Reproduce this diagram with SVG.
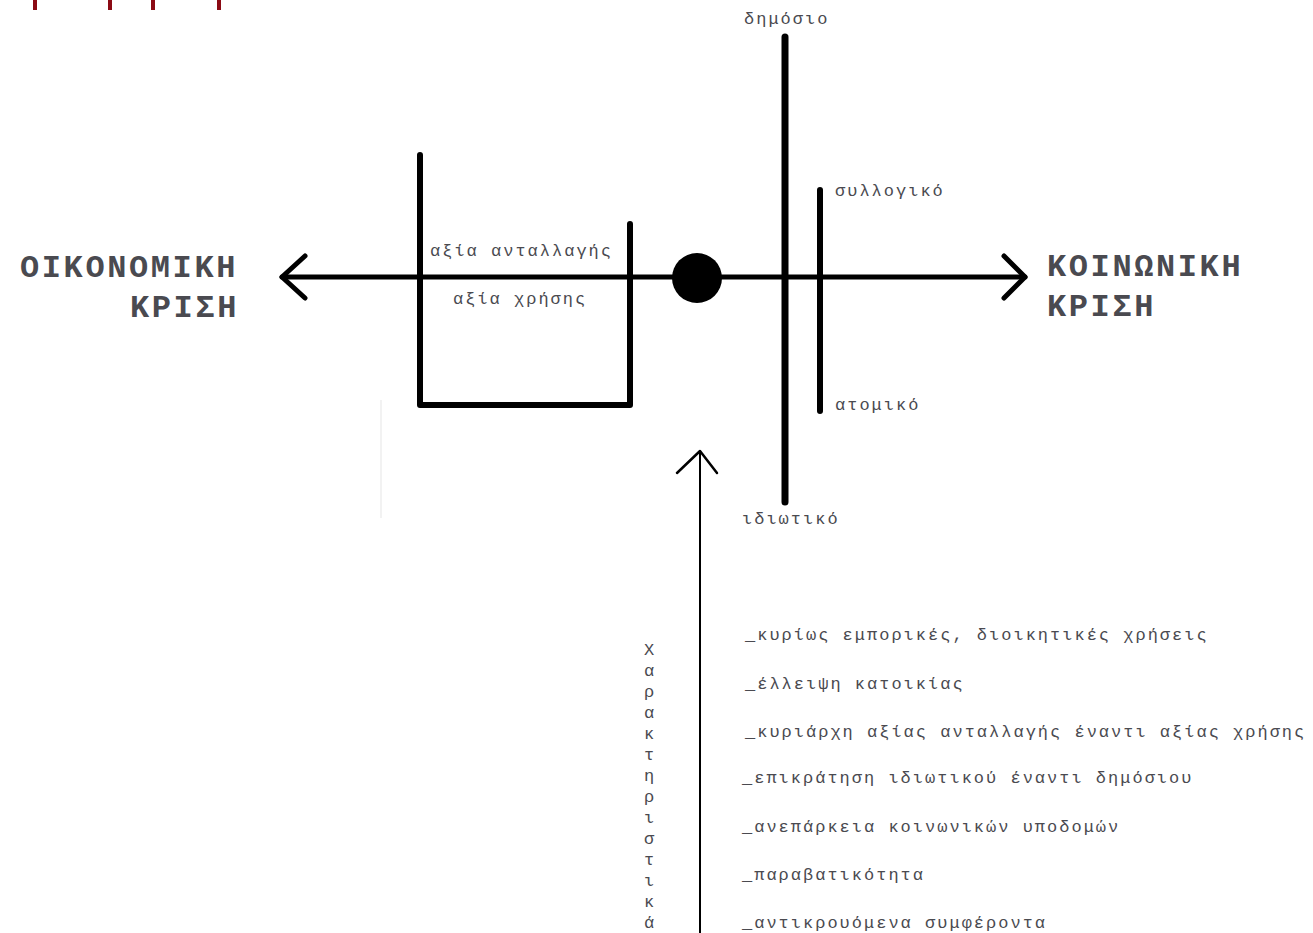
<svg xmlns="http://www.w3.org/2000/svg" width="1313" height="933" viewBox="0 0 1313 933">
<style>
text{font-family:"Liberation Mono","Courier New",monospace;fill:#4a4a50}
.big{font-size:32px;font-weight:bold;letter-spacing:2.6px}
.sm{font-size:17px;letter-spacing:2px}
.thick{stroke:#000;fill:none;stroke-linecap:round;stroke-linejoin:round}
</style>
<rect width="1313" height="933" fill="#fff"/>
<g id="ticks" stroke="#8b0a14" stroke-width="4">
<line x1="35" y1="0" x2="35" y2="10"/>
<line x1="110" y1="0" x2="110" y2="10"/>
<line x1="153" y1="0" x2="153" y2="10"/>
<line x1="219" y1="0" x2="219" y2="10"/>
</g>
<line x1="381" y1="400" x2="381" y2="518" stroke="#f2f2f2" stroke-width="2"/>
<g id="connectors">
<line class="thick" x1="282" y1="277" x2="1025" y2="277" stroke-width="5"/>
<polyline class="thick" points="305,256 282,277 305,298" stroke-width="5"/>
<polyline class="thick" points="1004,256 1025,277 1004,298" stroke-width="5"/>
<line class="thick" x1="700" y1="933" x2="700" y2="451" stroke-width="2"/>
<polyline class="thick" points="677,473 700,451 717,473" stroke-width="2.5"/>
</g>
<g id="value-box">
<polyline class="thick" points="420,155 420,405 630,405 630,224" stroke-width="6"/>
<text class="sm" x="430" y="256">αξία ανταλλαγής</text>
<text class="sm" x="453" y="304">αξία χρήσης</text>
</g>
<g id="center-node"><circle cx="697" cy="278" r="25" fill="#000"/></g>
<g id="public-private">
<line class="thick" x1="785" y1="37" x2="785" y2="502" stroke-width="7"/>
<text class="sm" x="744" y="24">δημόσιο</text>
<text class="sm" x="742" y="524">ιδιωτικό</text>
</g>
<g id="collective-individual">
<line class="thick" x1="820" y1="190" x2="820" y2="411" stroke-width="6"/>
<text class="sm" x="835" y="196">συλλογικό</text>
<text class="sm" x="835" y="410">ατομικό</text>
</g>
<g id="economic-crisis">
<text class="big" x="20" y="277">ΟΙΚΟΝΟΜΙΚΗ</text>
<text class="big" x="130" y="317">ΚΡΙΣΗ</text>
</g>
<g id="social-crisis">
<text class="big" x="1047" y="276">ΚΟΙΝΩΝΙΚΗ</text>
<text class="big" x="1047" y="316">ΚΡΙΣΗ</text>
</g>
<g id="characteristics-label">
<text class="sm" text-anchor="middle" letter-spacing="0" x="650" y="655">Χ</text>
<text class="sm" text-anchor="middle" letter-spacing="0" x="650" y="676">α</text>
<text class="sm" text-anchor="middle" letter-spacing="0" x="650" y="697">ρ</text>
<text class="sm" text-anchor="middle" letter-spacing="0" x="650" y="718">α</text>
<text class="sm" text-anchor="middle" letter-spacing="0" x="650" y="739">κ</text>
<text class="sm" text-anchor="middle" letter-spacing="0" x="650" y="760">τ</text>
<text class="sm" text-anchor="middle" letter-spacing="0" x="650" y="781">η</text>
<text class="sm" text-anchor="middle" letter-spacing="0" x="650" y="802">ρ</text>
<text class="sm" text-anchor="middle" letter-spacing="0" x="650" y="823">ι</text>
<text class="sm" text-anchor="middle" letter-spacing="0" x="650" y="844">σ</text>
<text class="sm" text-anchor="middle" letter-spacing="0" x="650" y="865">τ</text>
<text class="sm" text-anchor="middle" letter-spacing="0" x="650" y="886">ι</text>
<text class="sm" text-anchor="middle" letter-spacing="0" x="650" y="907">κ</text>
<text class="sm" text-anchor="middle" letter-spacing="0" x="650" y="928">ά</text>
</g>
<g id="characteristics-list">
<text class="sm" x="745" y="640">_κυρίως εμπορικές, διοικητικές χρήσεις</text>
<text class="sm" x="745" y="689">_έλλειψη κατοικίας</text>
<text class="sm" x="745" y="737">_κυριάρχη αξίας ανταλλαγής έναντι αξίας χρήσης</text>
<text class="sm" x="742" y="783">_επικράτηση ιδιωτικού έναντι δημόσιου</text>
<text class="sm" x="742" y="832">_ανεπάρκεια κοινωνικών υποδομών</text>
<text class="sm" x="742" y="880">_παραβατικότητα</text>
<text class="sm" x="742" y="928">_αντικρουόμενα συμφέροντα</text>
</g>
</svg>
